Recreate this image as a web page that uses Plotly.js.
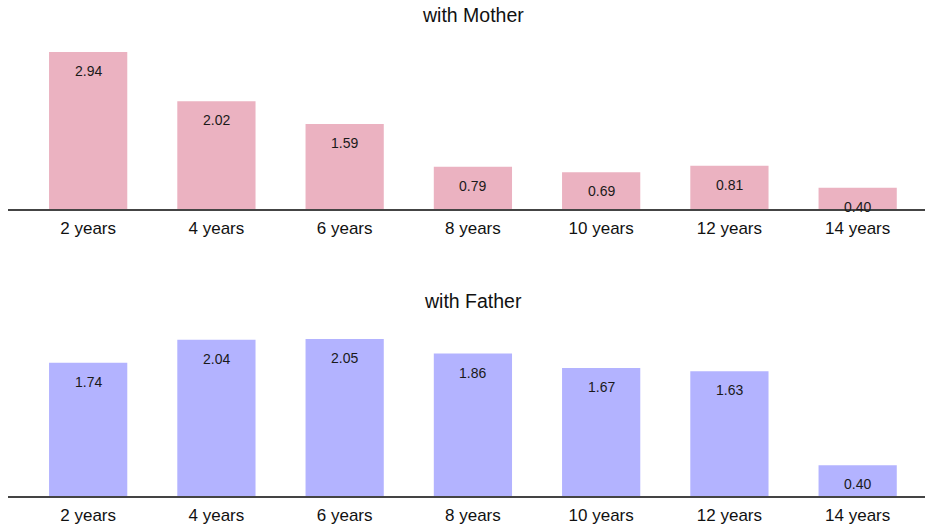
<!DOCTYPE html>
<html>
<head>
<meta charset="utf-8">
<script src="https://cdn.plot.ly/plotly-3.0.1.min.js"></script>
<style>html,body{margin:0;padding:0;background:#fff;}#chart{width:925px;height:531px;}</style>
</head>
<body>
<div id="chart"></div>
<script>
const categories = ["2 years", "4 years", "6 years", "8 years", "10 years", "12 years", "14 years"];
const motherValues = [2.94, 2.02, 1.59, 0.79, 0.69, 0.81, 0.40];
const fatherValues = [1.74, 2.04, 2.05, 1.86, 1.67, 1.63, 0.40];
const panelTitles = ["with Mother", "with Father"];

const FONT = "Liberation Sans, Arial, sans-serif";
const pink = "rgb(235,178,193)";
const blue = "rgb(179,179,255)";

const traces = [
  {type: "bar", x: categories, y: motherValues, marker: {color: pink}, width: 0.61,
   xaxis: "x", yaxis: "y", hoverinfo: "none", showlegend: false},
  {type: "bar", x: categories, y: fatherValues, marker: {color: blue}, width: 0.61,
   xaxis: "x2", yaxis: "y2", hoverinfo: "none", showlegend: false}
];

const annotations = [];
function addLabels(vals, xref, yref) {
  vals.forEach((v, i) => {
    annotations.push({x: categories[i], y: v, xref: xref, yref: yref, text: v.toFixed(2),
      showarrow: false, yanchor: "middle", yshift: -19,
      font: {family: FONT, size: 14, color: "#1a1a1a"}});
  });
}
addLabels(motherValues, "x", "y");
addLabels(fatherValues, "x2", "y2");

annotations.push({text: panelTitles[0], xref: "paper", yref: "paper", x: 0.5076, y: 0.9698,
  xanchor: "center", yanchor: "middle", showarrow: false, font: {family: FONT, size: 19.5, color: "#111"}});
annotations.push({text: panelTitles[1], xref: "paper", yref: "paper", x: 0.5076, y: 0.3931,
  xanchor: "center", yanchor: "middle", showarrow: false, font: {family: FONT, size: 19.5, color: "#111"}});

const xCommon = {
  type: "category", range: [-0.625, 6.525], showgrid: false, zeroline: false,
  showline: true, linecolor: "#444", linewidth: 1.5, ticks: "", fixedrange: true,
  tickfont: {family: FONT, size: 17, color: "#111"}, ticklabelstandoff: 3
};
const yCommon = {showgrid: false, zeroline: false, showline: false, showticklabels: false, ticks: "", fixedrange: true};

const layout = {
  width: 925, height: 531,
  margin: {l: 8, r: 0, t: 0, b: 35},
  paper_bgcolor: "#fff", plot_bgcolor: "#fff",
  xaxis: Object.assign({}, xCommon, {anchor: "y"}),
  yaxis: Object.assign({}, yCommon, {domain: [0.5786, 0.9395], range: [0, Math.max(...motherValues) * 1.14]}),
  xaxis2: Object.assign({}, xCommon, {anchor: "y2"}),
  yaxis2: Object.assign({}, yCommon, {domain: [0, 0.3609], range: [0, Math.max(...fatherValues) * 1.14]}),
  annotations: annotations
};

Plotly.newPlot("chart", traces, layout, {displayModeBar: false, staticPlot: true});
</script>
</body>
</html>
